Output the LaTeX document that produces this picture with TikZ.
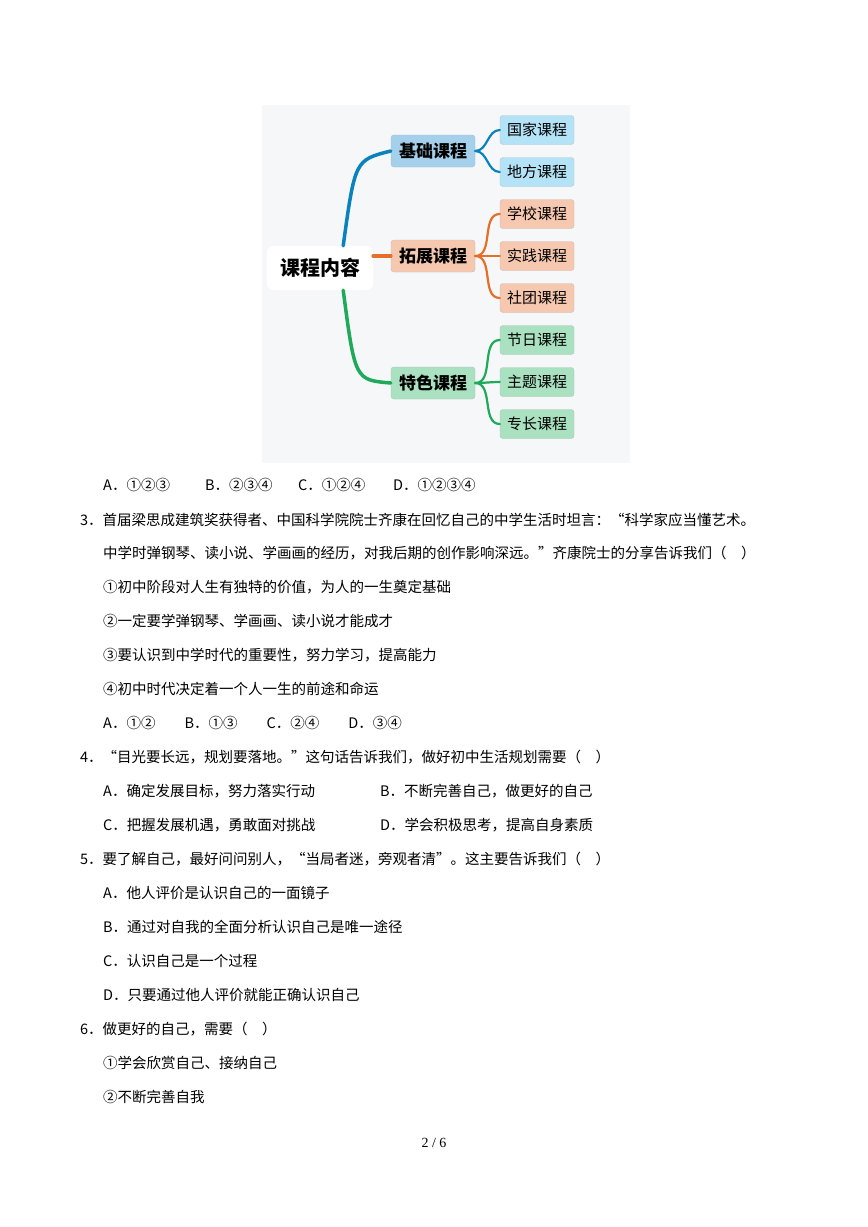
\documentclass[tikz,border=0pt]{standalone}
\usepackage{fontspec}
\setmainfont{Liberation Serif}
\newfontfamily\cjk{Noto Sans CJK SC}
\definecolor{blueline}{RGB}{10,130,190}
\definecolor{bluefill}{RGB}{165,208,236}
\definecolor{leafblue}{RGB}{180,226,246}
\definecolor{orangeline}{RGB}{230,110,40}
\definecolor{orangefill}{RGB}{246,200,175}
\definecolor{greenline}{RGB}{30,170,90}
\definecolor{greenfill}{RGB}{170,225,192}
\definecolor{mapbg}{RGB}{246,247,249}
\begin{document}
\begin{tikzpicture}[x=1pt,y=-1pt,
    rootbox/.style={fill=white, rounded corners=6pt, minimum width=106pt, minimum height=44pt, font=\cjk\bfseries\fontsize{20}{20}\selectfont},
    mainbox/.style={draw=#1!70!black!60, fill=#1, rounded corners=3pt, minimum width=84pt, minimum height=32pt, font=\cjk\bfseries\fontsize{17}{17}\selectfont},
    leafbox/.style={draw=#1!70!black!60, fill=#1, rounded corners=3pt, minimum width=74pt, minimum height=29pt, font=\cjk\fontsize{15}{15}\selectfont},
    branch/.style={draw=#1, line width=3.5pt, line cap=round},
    twig/.style={draw=#1, line width=2.2pt, line cap=round},
    txt/.style={anchor=west, inner sep=0pt, font=\cjk\fontsize{14.5}{14.5}\selectfont}
]
\useasboundingbox[fill=white] (0,0) rectangle (868,1227);
\fill[mapbg] (262,105) rectangle (630,463);

% mind map
\node[rootbox] (root) at (320,268) {课程内容};
\node[mainbox=bluefill] (jc) at (433,151) {基础课程};
\node[mainbox=orangefill] (tz) at (433,256) {拓展课程};
\node[mainbox=greenfill] (ts) at (433,383) {特色课程};

\node[leafbox=leafblue] (gj) at (537,130) {国家课程};
\node[leafbox=leafblue] (df) at (537,172) {地方课程};
\node[leafbox=orangefill] (xx) at (537,214) {学校课程};
\node[leafbox=orangefill] (sj) at (537,256) {实践课程};
\node[leafbox=orangefill] (st) at (537,298) {社团课程};
\node[leafbox=greenfill] (jr) at (537,340) {节日课程};
\node[leafbox=greenfill] (zt) at (537,382) {主题课程};
\node[leafbox=greenfill] (zc) at (537,424) {专长课程};

\draw[branch=blueline] ([xshift=-30pt]root.north east) .. controls (355,160) .. (jc.west);
\draw[branch=orangeline] (root.east|-tz.west) -- (tz.west);
\draw[branch=greenline] ([xshift=-30pt]root.south east) .. controls (355,380) .. (ts.west);
\foreach \l in {gj,df}
    \draw[twig=blueline] (jc.east) to[out=0,in=180] (\l.west);
\foreach \l in {xx,sj,st}
    \draw[twig=orangeline] (tz.east) to[out=0,in=180] (\l.west);
\foreach \l in {jr,zt,zc}
    \draw[twig=greenline] (ts.east) to[out=0,in=180] (\l.west);

% questions
\node[txt] (q2a) at (103,485) {A．①②③};
\node[txt] (q2b) at (205,485) {B．②③④};
\node[txt] (q2c) at (298,485) {C．①②④};
\node[txt] (q2d) at (393,485) {D．①②③④};
\node[txt] (q3a) at (80,520) {3．首届梁思成建筑奖获得者、中国科学院院士齐康在回忆自己的中学生活时坦言：“科学家应当懂艺术。};
\node[txt] (q3b) at (103,553) {中学时弹钢琴、读小说、学画画的经历，对我后期的创作影响深远。”齐康院士的分享告诉我们（\quad）};
\node[txt] (q3c) at (103,587) {①初中阶段对人生有独特的价值，为人的一生奠定基础};
\node[txt] (q3d) at (103,621) {②一定要学弹钢琴、学画画、读小说才能成才};
\node[txt] (q3e) at (103,655) {③要认识到中学时代的重要性，努力学习，提高能力};
\node[txt] (q3f) at (103,689) {④初中时代决定着一个人一生的前途和命运};
\node[txt] (q3g) at (103,723) {A．①②\qquad B．①③\qquad C．②④\qquad D．③④};
\node[txt] (q4a) at (80,757) {4．“目光要长远，规划要落地。”这句话告诉我们，做好初中生活规划需要（\quad）};
\node[txt] (q4b) at (103,791) {A．确定发展目标，努力落实行动};
\node[txt] (q4c) at (380,791) {B．不断完善自己，做更好的自己};
\node[txt] (q4d) at (103,825) {C．把握发展机遇，勇敢面对挑战};
\node[txt] (q4e) at (380,825) {D．学会积极思考，提高自身素质};
\node[txt] (q5a) at (80,859) {5．要了解自己，最好问问别人，“当局者迷，旁观者清”。这主要告诉我们（\quad）};
\node[txt] (q5b) at (103,893) {A．他人评价是认识自己的一面镜子};
\node[txt] (q5c) at (103,927) {B．通过对自我的全面分析认识自己是唯一途径};
\node[txt] (q5d) at (103,961) {C．认识自己是一个过程};
\node[txt] (q5e) at (103,995) {D．只要通过他人评价就能正确认识自己};
\node[txt] (q6a) at (80,1029) {6．做更好的自己，需要（\quad）};
\node[txt] (q6b) at (103,1063) {①学会欣赏自己、接纳自己};
\node[txt] (q6c) at (103,1097) {②不断完善自我};
\node[font=\fontsize{14}{14}\selectfont] (pg) at (434,1143) {2 / 6};
\end{tikzpicture}
\end{document}
